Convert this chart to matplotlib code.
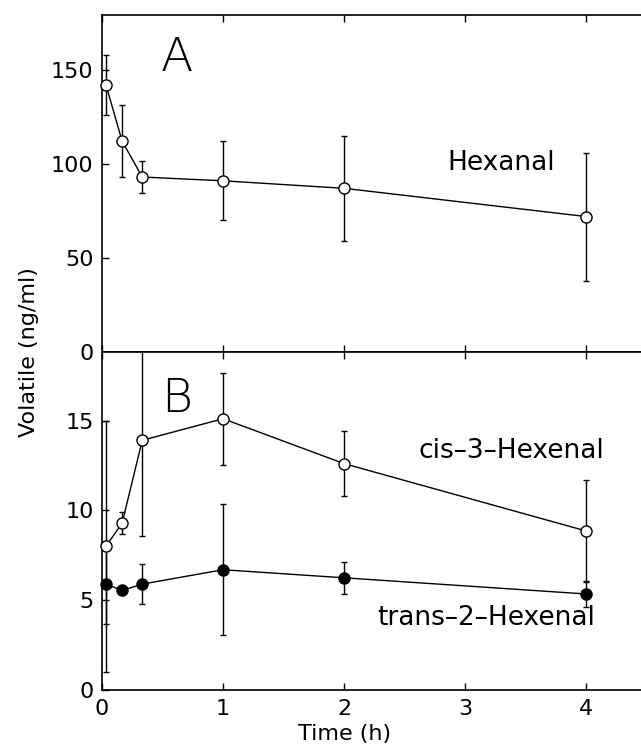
import matplotlib.pyplot as plt

# sampling times (h)
TIME = [0.033, 0.167, 0.333, 1, 2, 4]

# panel A: hexanal (ng/ml)
HEXANAL = [142, 112, 93, 91, 87, 72]
HEXANAL_ERR = [16, 19, 8.5, 21, 28, 34]

# panel B: cis-3-hexenal and trans-2-hexenal (ng/ml)
CIS3 = [8.0, 9.3, 13.9, 15.1, 12.6, 8.85]
CIS3_ERR = [7.0, 0.6, 5.3, 2.55, 1.8, 2.85]
TRANS2 = [5.9, 5.55, 5.9, 6.7, 6.25, 5.35]
TRANS2_ERR = [2.2, 0.2, 1.1, 3.65, 0.9, 0.75]

FS = 16
LABEL_FS = 19
plt.rcParams['font.family'] = 'DejaVu Sans'


def draw_series(ax, y, yerr, filled):
    cont = ax.errorbar(TIME, y, yerr=yerr, color='black', lw=1.0, elinewidth=1.0,
                       capsize=2, capthick=1.0, marker='o', ms=8,
                       mfc='black' if filled else 'white', mec='black', mew=1.0,
                       clip_on=False, zorder=3)
    # error bars are cut at the frame, markers are not
    for art in list(cont.lines[1]) + list(cont.lines[2]):
        art.set_clip_on(True)


def style_axis(ax):
    ax.set_xlim(0, 4.45)
    ax.spines['right'].set_visible(False)
    for s in ax.spines.values():
        s.set_linewidth(1.2)
    ax.tick_params(direction='in', top=True, length=5, width=1.0,
                   labelsize=FS, pad=6)
    ax.set_xticks([0, 1, 2, 3, 4])


fig = plt.figure(figsize=(6.41, 7.51), dpi=100)
ax_a = fig.add_axes([0.159, 0.531, 0.841, 0.449])
ax_b = fig.add_axes([0.159, 0.081, 0.841, 0.450])

# panel A
draw_series(ax_a, HEXANAL, HEXANAL_ERR, False)
style_axis(ax_a)
ax_a.set_ylim(0, 179)
ax_a.set_yticks([0, 50, 100, 150])
ax_a.tick_params(labelbottom=False)
ax_a.text(0.62, 156, 'A', fontsize=34, fontweight='light', ha='center', va='center')
ax_a.text(3.3, 100.5, 'Hexanal', fontsize=LABEL_FS, ha='center', va='center')

# panel B
draw_series(ax_b, CIS3, CIS3_ERR, False)
draw_series(ax_b, TRANS2, TRANS2_ERR, True)
style_axis(ax_b)
ax_b.set_ylim(0, 18.8)
ax_b.set_yticks([0, 5, 10, 15])
ax_b.text(0.62, 16.2, 'B', fontsize=34, fontweight='light', ha='center', va='center')
ax_b.text(3.38, 13.3, 'cis\u20133\u2013Hexenal', fontsize=LABEL_FS, ha='center', va='center')
ax_b.text(3.17, 4.0, 'trans\u20132\u2013Hexenal', fontsize=LABEL_FS, ha='center', va='center')
ax_b.set_xlabel('Time (h)', fontsize=FS, labelpad=0)
ax_b.xaxis.set_label_coords(2 / 4.45, -0.1)

fig.text(0.045, 0.531, 'Volatile (ng/ml)', rotation=90, fontsize=FS,
         ha='center', va='center')

fig.savefig('out.png', dpi=100)
